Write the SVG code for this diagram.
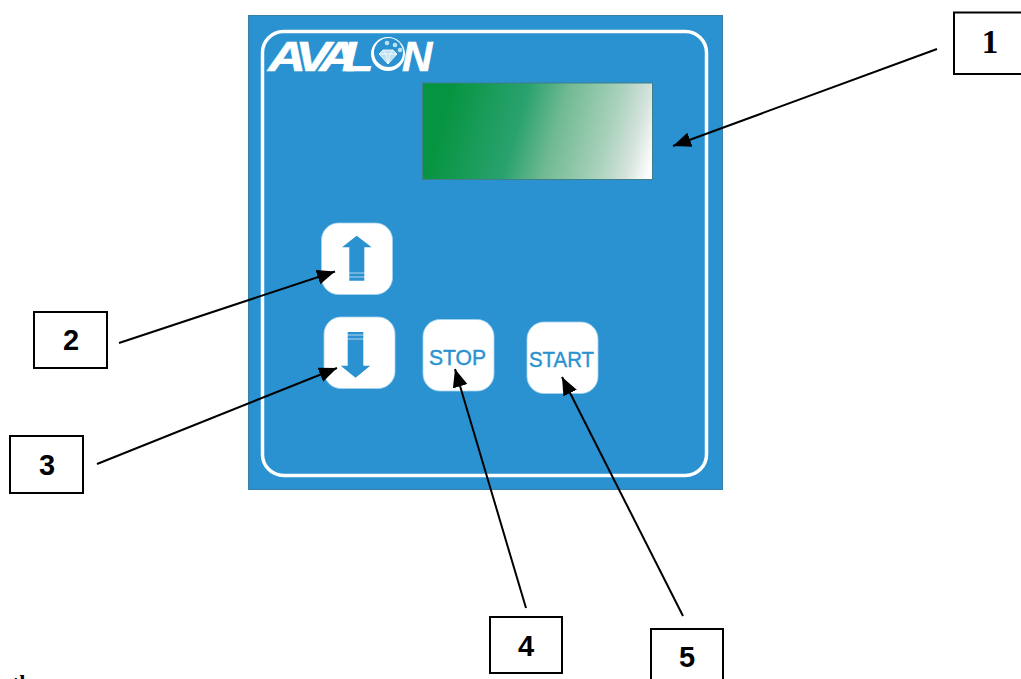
<svg xmlns="http://www.w3.org/2000/svg" width="1021" height="679" viewBox="0 0 1021 679">
<style>
.btn{fill:#fff;stroke:#a5d2ee;stroke-width:0.8}
.ico{fill:#2a92d0}
.btxt{font-family:"Liberation Sans",Arial,sans-serif;fill:#2a92d0;stroke:#2a92d0;stroke-width:0.4}
.box{fill:#fff;stroke:#000;stroke-width:2}
.num{font-family:"Liberation Sans",Arial,sans-serif;font-weight:bold;font-size:29px;fill:#000;text-anchor:middle}
.ln{stroke:#000;stroke-width:2;fill:none;marker-end:url(#ah)}
.logo{font-family:"Liberation Sans",Arial,sans-serif;font-weight:bold;font-style:italic;fill:#fff;stroke:#fff;stroke-width:0.6}
</style>
<defs>
<marker id="ah" markerUnits="userSpaceOnUse" markerWidth="20" markerHeight="16" refX="18" refY="7.500" orient="auto"><path d="M0 0L18 7.500L0 15Z" fill="#000"/></marker>
<linearGradient id="lcd" gradientUnits="userSpaceOnUse" x1="428" y1="100" x2="652" y2="165">
<stop offset="0.07" stop-color="#05943f"/><stop offset="0.4" stop-color="#2aa26f"/><stop offset="0.56" stop-color="#6fb991"/><stop offset="0.78" stop-color="#a8d1bb"/><stop offset="0.9" stop-color="#d3e2db"/><stop offset="1" stop-color="#fff"/>
</linearGradient>
</defs>
<rect width="1021" height="679" fill="#fff"/>
<g id="panel">
<rect x="248.500" y="15.500" width="474" height="474" fill="#2a92d0" stroke="#3a7fa8" stroke-width="1"/>
<rect x="262.500" y="31.500" width="444" height="444" rx="21" fill="none" stroke="#fff" stroke-width="3.500"/>
</g>
<g id="logo">
<text class="logo" font-size="42" transform="translate(268 71) scale(1.25 1)" x="0 22 41 59">AVAL</text>
<circle cx="388" cy="54" r="17" fill="#fff"/>
<circle cx="388.500" cy="52.500" r="14.500" fill="#2a92d0"/>
<path d="M379 54L383 50H393L397 54L388 64Z" fill="#bfe0f2" stroke="#fff" stroke-width="0.8"/>
<path d="M379 54H397M383 50L386 54L388 64L390 54L393 50" fill="none" stroke="#fff" stroke-width="0.7"/>
<g fill="#bfe0f2"><circle cx="387" cy="43" r="2.300"/><circle cx="395" cy="45" r="2.300"/><circle cx="400" cy="50" r="2.300"/></g>
<text class="logo" font-size="42" transform="translate(402 71)" x="0">N</text>
</g>
<g id="display">
<rect x="422.500" y="83" width="230" height="96.500" fill="url(#lcd)" stroke="#3f7f8a" stroke-width="1"/>
</g>
<g id="btn-up">
<rect class="btn" x="321.500" y="223" width="71" height="71.500" rx="17"/>
<path class="ico" d="M356.700 235.700L371.700 247.300H364.300V280.700H349.300V247.300H342Z"/>
<path d="M349 273H365M349 277H365" stroke="#fff" stroke-width="0.8" opacity="0.8"/>
</g>
<g id="btn-down">
<rect class="btn" x="324" y="317" width="71" height="71.500" rx="17"/>
<path class="ico" d="M347.700 332H363.300V365.700H370.300L355.500 377.700L340.700 365.700H347.700Z"/>
<path d="M347 335H364M347 339H364" stroke="#fff" stroke-width="0.8" opacity="0.8"/>
</g>
<g id="btn-stop">
<rect class="btn" x="423" y="319.500" width="71" height="71.500" rx="17"/>
<text class="btxt" x="429" y="364.700" font-size="22" textLength="57" lengthAdjust="spacingAndGlyphs">STOP</text>
</g>
<g id="btn-start">
<rect class="btn" x="527" y="322" width="71" height="71.500" rx="17"/>
<text class="btxt" x="529" y="366.700" font-size="22" textLength="65" lengthAdjust="spacingAndGlyphs">START</text>
</g>
<g id="connectors">
<path class="ln" d="M937 49L673 146"/>
<path class="ln" d="M119 343L335 271.500"/>
<path class="ln" d="M97 464L337 368"/>
<path class="ln" d="M526 608L455 369"/>
<path class="ln" d="M683 616L562 377"/>
</g>
<g id="label-1">
<rect class="box" x="954" y="12.500" width="68" height="61.500"/>
<text x="990" y="53" font-family="'Liberation Serif','Times New Roman',serif" font-weight="bold" font-size="33" text-anchor="middle">1</text>
</g>
<g id="label-2"><rect class="box" x="34" y="312" width="73" height="56"/><text class="num" x="71" y="350">2</text></g>
<g id="label-3"><rect class="box" x="10" y="436" width="73" height="57"/><text class="num" x="47" y="475">3</text></g>
<g id="label-4"><rect class="box" x="490" y="617" width="72" height="56"/><text class="num" x="526" y="656">4</text></g>
<g id="label-5"><rect class="box" x="651" y="629" width="72" height="56"/><text class="num" x="687" y="667">5</text></g>
<text x="12" y="690" font-family="'Liberation Serif','Times New Roman',serif" font-weight="bold" font-size="22">th</text>
</svg>
